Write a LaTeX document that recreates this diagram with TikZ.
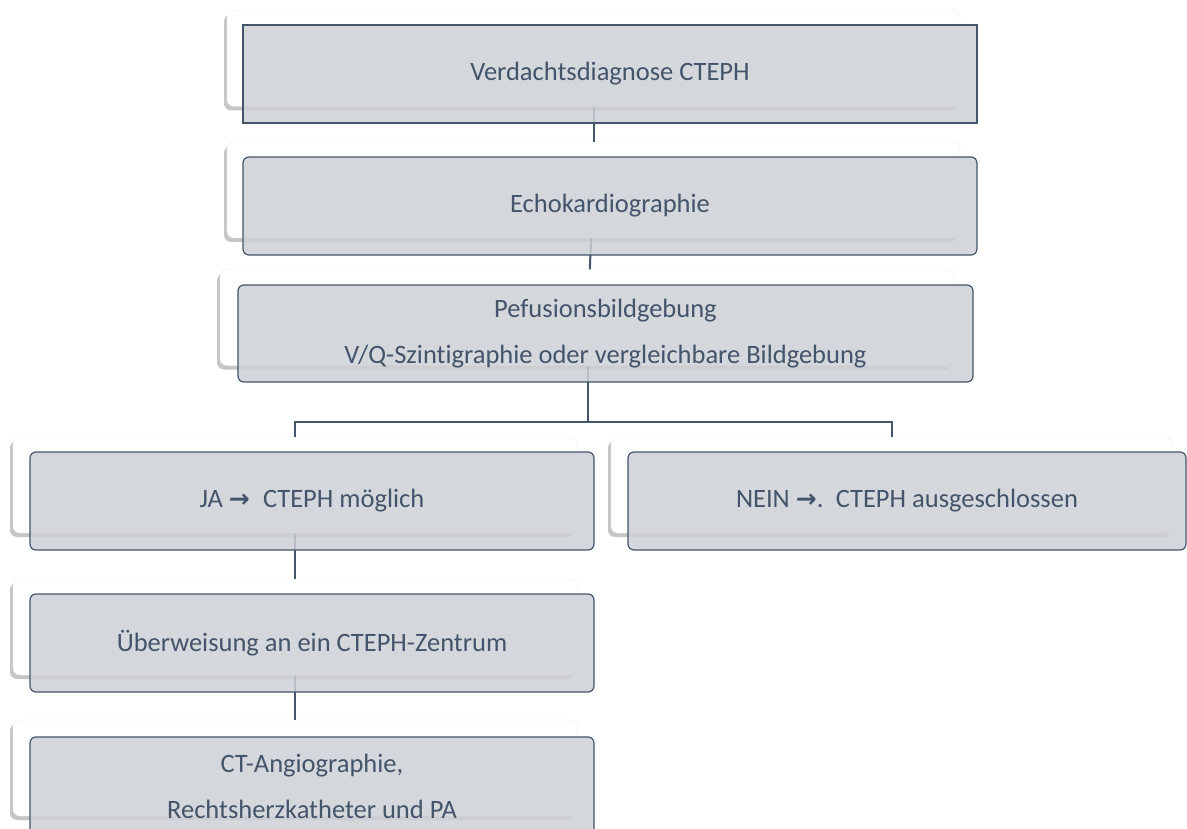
\documentclass[tikz,border=0pt]{standalone}
\usepackage{fontspec}
\setmainfont[Ligatures=NoCommon]{Carlito}
\newfontfamily\arrowfont{DejaVu Sans}
\usetikzlibrary{shadows}
\definecolor{slate}{RGB}{68,84,106}
\definecolor{boxgrey}{RGB}{205,208,213}
\newcommand{\yieldsarrow}{{\arrowfont\bfseries\fontsize{25}{46}\selectfont →}}

\begin{document}
\begin{tikzpicture}[x=1pt, y=-1pt,
    back/.style = {draw=gray!15, fill=white, rounded corners=7pt, minimum width=564pt, minimum height=96pt,
        drop shadow={shadow xshift=-3pt, shadow yshift=-4pt, opacity=0.45}},
    front/.style = {draw=slate, line width=1.2pt, fill=boxgrey, fill opacity=0.85, text opacity=1, text=slate,
        rounded corners=6pt, minimum width=564pt, minimum height=98pt, align=center,
        font=\fontsize{26.5}{46}\selectfont},
    link/.style = {draw=slate, line width=2pt}]
    \useasboundingbox (0,0) rectangle (1187,829);
    \clip (0,0) rectangle (1187,829);

    % white cards behind
    \node[back, minimum width=733pt] (b1) at (593.5,58.5) {};
    \node[back, minimum width=733pt] (b2) at (593.5,190) {};
    \node[back, minimum width=735pt] (b3) at (587.5,317.5) {};
    \node[back] (bja) at (295,485) {};
    \node[back, minimum width=562pt] (bnein) at (892,485) {};
    \node[back] (bzentrum) at (295,627) {};
    \node[back] (bct) at (295,768) {};

    % connectors
    \draw[link] (b1) -- (b2);
    \draw[link] (b2) -- (b3);
    \draw[link] (b3.south) -- ++(0,56) coordinate (split);
    \draw[link] (split) -| (bja.north);
    \draw[link] (split) -| (bnein.north);
    \draw[link] (bja) -- (bzentrum);
    \draw[link] (bzentrum) -- (bct);

    % grey boxes in front
    \node[front, sharp corners, minimum width=734pt] (f1) at (610,74) {Verdachtsdiagnose CTEPH};
    \node[front, minimum width=734pt] (f2) at (610,206) {Echokardiographie};
    \node[front, minimum width=735pt, minimum height=97pt] (f3) at (605.5,333.5)
        {Pefusionsbildgebung\\V/Q-Szintigraphie oder vergleichbare Bildgebung};
    \node[front] (fja) at (312,501) {JA \yieldsarrow\enspace CTEPH möglich};
    \node[front, minimum width=558pt] (fnein) at (907,501)
        {NEIN \yieldsarrow.\, CTEPH ausgeschlossen};
    \node[front] (fzentrum) at (312,643) {Überweisung an ein CTEPH-Zentrum};
    \node[front] (fct) at (312,786) {CT-Angiographie,\\Rechtsherzkatheter und PA};
\end{tikzpicture}
\end{document}
